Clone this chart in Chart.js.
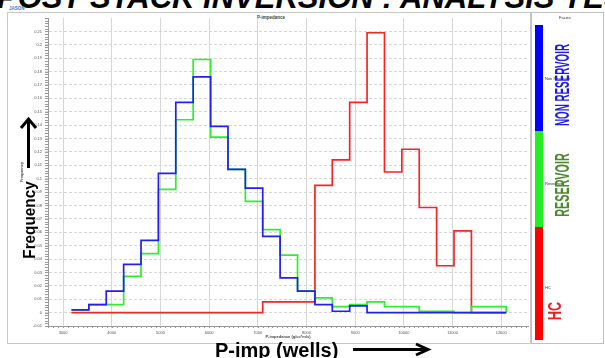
<!DOCTYPE html>
<html>
<head>
<meta charset="utf-8">
<script src="https://cdn.jsdelivr.net/npm/chart.js@4.4.0/dist/chart.umd.min.js"></script>
<style>
body { margin:0; width:605px; height:358px; overflow:hidden; background:#fff; position:relative; font-family:"Liberation Sans", Arial, sans-serif; }
#slideTitle { position:absolute; left:-3px; top:-18px; font:italic bold 31px/31px "Liberation Sans", Arial, sans-serif; white-space:nowrap; color:#000; }
#frame { position:absolute; left:7px; top:12px; width:522px; height:330px; border:1px solid #c8c8c8; }
#jason { position:absolute; left:9px; top:6px; font:bold 4.5px "Liberation Sans", sans-serif; color:#3b78c8; }
#plotTitle { position:absolute; left:240px; width:62px; top:15px; text-align:center; font:bold 4.5px "Liberation Sans", sans-serif; color:#444; }
#chartBox { position:absolute; left:0; top:0; }
#facies { position:absolute; left:531px; top:12px; width:71px; height:330px; border:1px solid #c0c0c0; }
.fbar { position:absolute; left:535px; width:8px; }
.tiny { position:absolute; font:4px "Liberation Sans", sans-serif; color:#333; white-space:nowrap; }
.rot { position:absolute; text-align:center; white-space:nowrap; font-weight:bold; font-family:"Liberation Sans", Arial, sans-serif; }
#overlay { position:absolute; left:0; top:0; }
</style>
</head>
<body>
<div id="slideTitle">POST STACK INVERSION : ANALYSIS YES</div>
<div id="jason">JASON</div>
<div id="frame"></div>
<div id="plotTitle">P-impedance</div>
<div id="chartBox"><canvas id="my_Chart" width="535" height="345"></canvas></div>

<div id="facies"></div>
<div class="tiny" style="left:559px; top:15px;">Facies</div>
<div class="fbar" style="top:25px; height:106px; background:#0000ff;"></div>
<div class="fbar" style="top:131px; height:96px; background:#22ee22;"></div>
<div class="fbar" style="top:227px; height:113px; background:#ff0000;"></div>
<div class="tiny" style="left:545px; top:76px;">Non Reservoir</div>
<div class="tiny" style="left:545px; top:181px;">Reservoir</div>
<div class="tiny" style="left:545px; top:285px;">HC</div>

<div class="rot" style="left:462px; top:75px; width:200px; height:20px; line-height:20px; font-size:20px; color:#1a1aee; transform:rotate(-90deg) scaleX(0.49);">NON RESERVOIR</div>
<div class="rot" style="left:462px; top:175px; width:200px; height:20px; line-height:20px; font-size:20px; color:#4a8a2c; transform:rotate(-90deg) scaleX(0.54);">RESERVOIR</div>
<div class="rot" style="left:505px; top:302px; width:100px; height:18px; line-height:18px; font-size:18px; color:#f02020; transform:rotate(-90deg) scaleX(0.69);">HC</div>

<div class="rot" style="left:-20px; top:211px; width:100px; height:18px; line-height:18px; font-size:17px; color:#000; transform:rotate(-90deg) scaleX(0.9);">Frequency</div>
<div class="rot" style="left:215px; top:340px; font-size:20px; line-height:20px; color:#000;">P-imp (wells)</div>

<svg id="overlay" width="605" height="358">
  <g stroke="#000" stroke-width="3" fill="none">
    <line x1="28.5" y1="168" x2="28.5" y2="120"/>
    <polyline points="21,128 28.5,119 36,128"/>
    <line x1="353" y1="349.5" x2="427" y2="349.5"/>
    <polyline points="416,344 428,349.5 416,355"/>
  </g>
</svg>

<script>
// histogram bins (left edges + final right edge), P-impedance g/cc*m/s
var binEdges = [3172, 3529, 3886, 4244, 4601, 4958, 5315, 5672, 6030, 6387, 6744, 7101, 7458,
                7816, 8173, 8530, 8887, 9244, 9602, 9959, 10316, 10673, 11030, 11388, 11745, 12102];

var nonReservoir = [0.002, 0.006, 0.016, 0.036, 0.054, 0.104, 0.157, 0.176, 0.139, 0.107, 0.093, 0.057, 0.026,
                    0.016, 0.006, 0.001, 0.005, 0, 0, 0, 0, 0, 0, 0, 0];
var reservoir    = [0.002, 0.006, 0.006, 0.027, 0.044, 0.092, 0.144, 0.189, 0.131, 0.107, 0.083, 0.062, 0.043,
                    0.016, 0.011, 0.0045, 0.006, 0.008, 0.0045, 0.0045, 0.001, 0.001, 0, 0.0045, 0.0045];
var hc           = [0, 0, 0, 0, 0, 0, 0, 0, 0, 0, 0, 0.008, 0.008,
                    0.008, 0.095, 0.114, 0.157, 0.209, 0.105, 0.122, 0.0785, 0.035, 0.061, 0, 0];

var xTicks = [3000, 4000, 5000, 6000, 7000, 8000, 9000, 10000, 11000, 12000];
var yTicks = [-0.01, 0, 0.01, 0.02, 0.03, 0.04, 0.05, 0.06, 0.07, 0.08, 0.09, 0.1, 0.11,
              0.12, 0.13, 0.14, 0.15, 0.16, 0.17, 0.18, 0.19, 0.2, 0.21];

function steps(vals){
	var pts = [];
	for(var i = 0; i < vals.length; i++){
		pts.push({x: binEdges[i], y: vals[i]});
	}
	pts.push({x: binEdges[binEdges.length-1], y: 0});
	return pts;
}

// small ruler ticks along both axes
var minorTicks = {
	id: 'minorTicks',
	afterDraw: function(chart){
		var ctx = chart.ctx, x = chart.scales.x, y = chart.scales.y;
		ctx.save();
		ctx.strokeStyle = '#999';
		ctx.lineWidth = 1;
		ctx.beginPath();
		for(var v = -10; v <= 220; v += 2){
			var py = Math.round(y.getPixelForValue(v/1000)) + 0.5;
			ctx.moveTo(x.left - 3, py); ctx.lineTo(x.left, py);
		}
		for(var w = 2700; w <= 12500; w += 100){
			var px = Math.round(x.getPixelForValue(w)) + 0.5;
			ctx.moveTo(px, y.bottom); ctx.lineTo(px, y.bottom + 2);
		}
		ctx.stroke();
		ctx.restore();
	}
};

var ctx = document.getElementById('my_Chart').getContext('2d');
var myChart = new Chart(ctx, {
	type: 'line',
	data: {
		datasets: [
			{ label: 'Non Reservoir', data: steps(nonReservoir), borderColor: '#2020f0', borderWidth: 1.7, stepped: true, pointRadius: 0, fill: false },
			{ label: 'Reservoir', data: steps(reservoir), borderColor: '#2cf02c', borderWidth: 1.7, stepped: true, pointRadius: 0, fill: false },
			{ label: 'HC', data: steps(hc), borderColor: '#f52525', borderWidth: 1.7, stepped: true, pointRadius: 0, fill: false }
		]
	},
	options: {
		responsive: false,
		animation: false,
		layout: { padding: { left: 14, top: 18, right: 7, bottom: 1 } },
		plugins: { legend: { display: false }, tooltip: { enabled: false } },
		scales: {
			x: {
				type: 'linear',
				min: 2690, max: 12550,
				afterBuildTicks: function(s){ s.ticks = xTicks.map(function(v){ return {value: v}; }); },
				afterFit: function(s){ s.height = 18; },
				ticks: { font: { size: 4 }, color: '#555', padding: 2.5, maxRotation: 0, callback: function(v){ return String(v); } },
				grid: { color: '#d6d6d6', lineWidth: 1, tickLength: 2 },
				border: { color: '#999', width: 1 },
				title: { display: true, text: 'P-impedance (g/cc*m/s)', font: { size: 4, weight: 'bold' }, color: '#444', padding: { top: 0, bottom: 4.6 } }
			},
			y: {
				min: -0.01, max: 0.22,
				afterBuildTicks: function(s){ s.ticks = yTicks.map(function(v){ return {value: v}; }); },
				afterFit: function(s){ s.width = 34; },
				ticks: { font: { size: 4 }, color: '#555', padding: 3, callback: function(v){ return String(+v.toFixed(3)); } },
				grid: { color: '#d6d6d6', lineWidth: 1, tickLength: 3 },
				border: { color: '#999', width: 1, dash: [3, 2] },
				title: { display: true, text: 'Frequency', font: { size: 4, weight: 'bold' }, color: '#444', padding: { top: 5.6, bottom: 0 } }
			}
		}
	},
	plugins: [minorTicks]
});
</script>
</body>
</html>
